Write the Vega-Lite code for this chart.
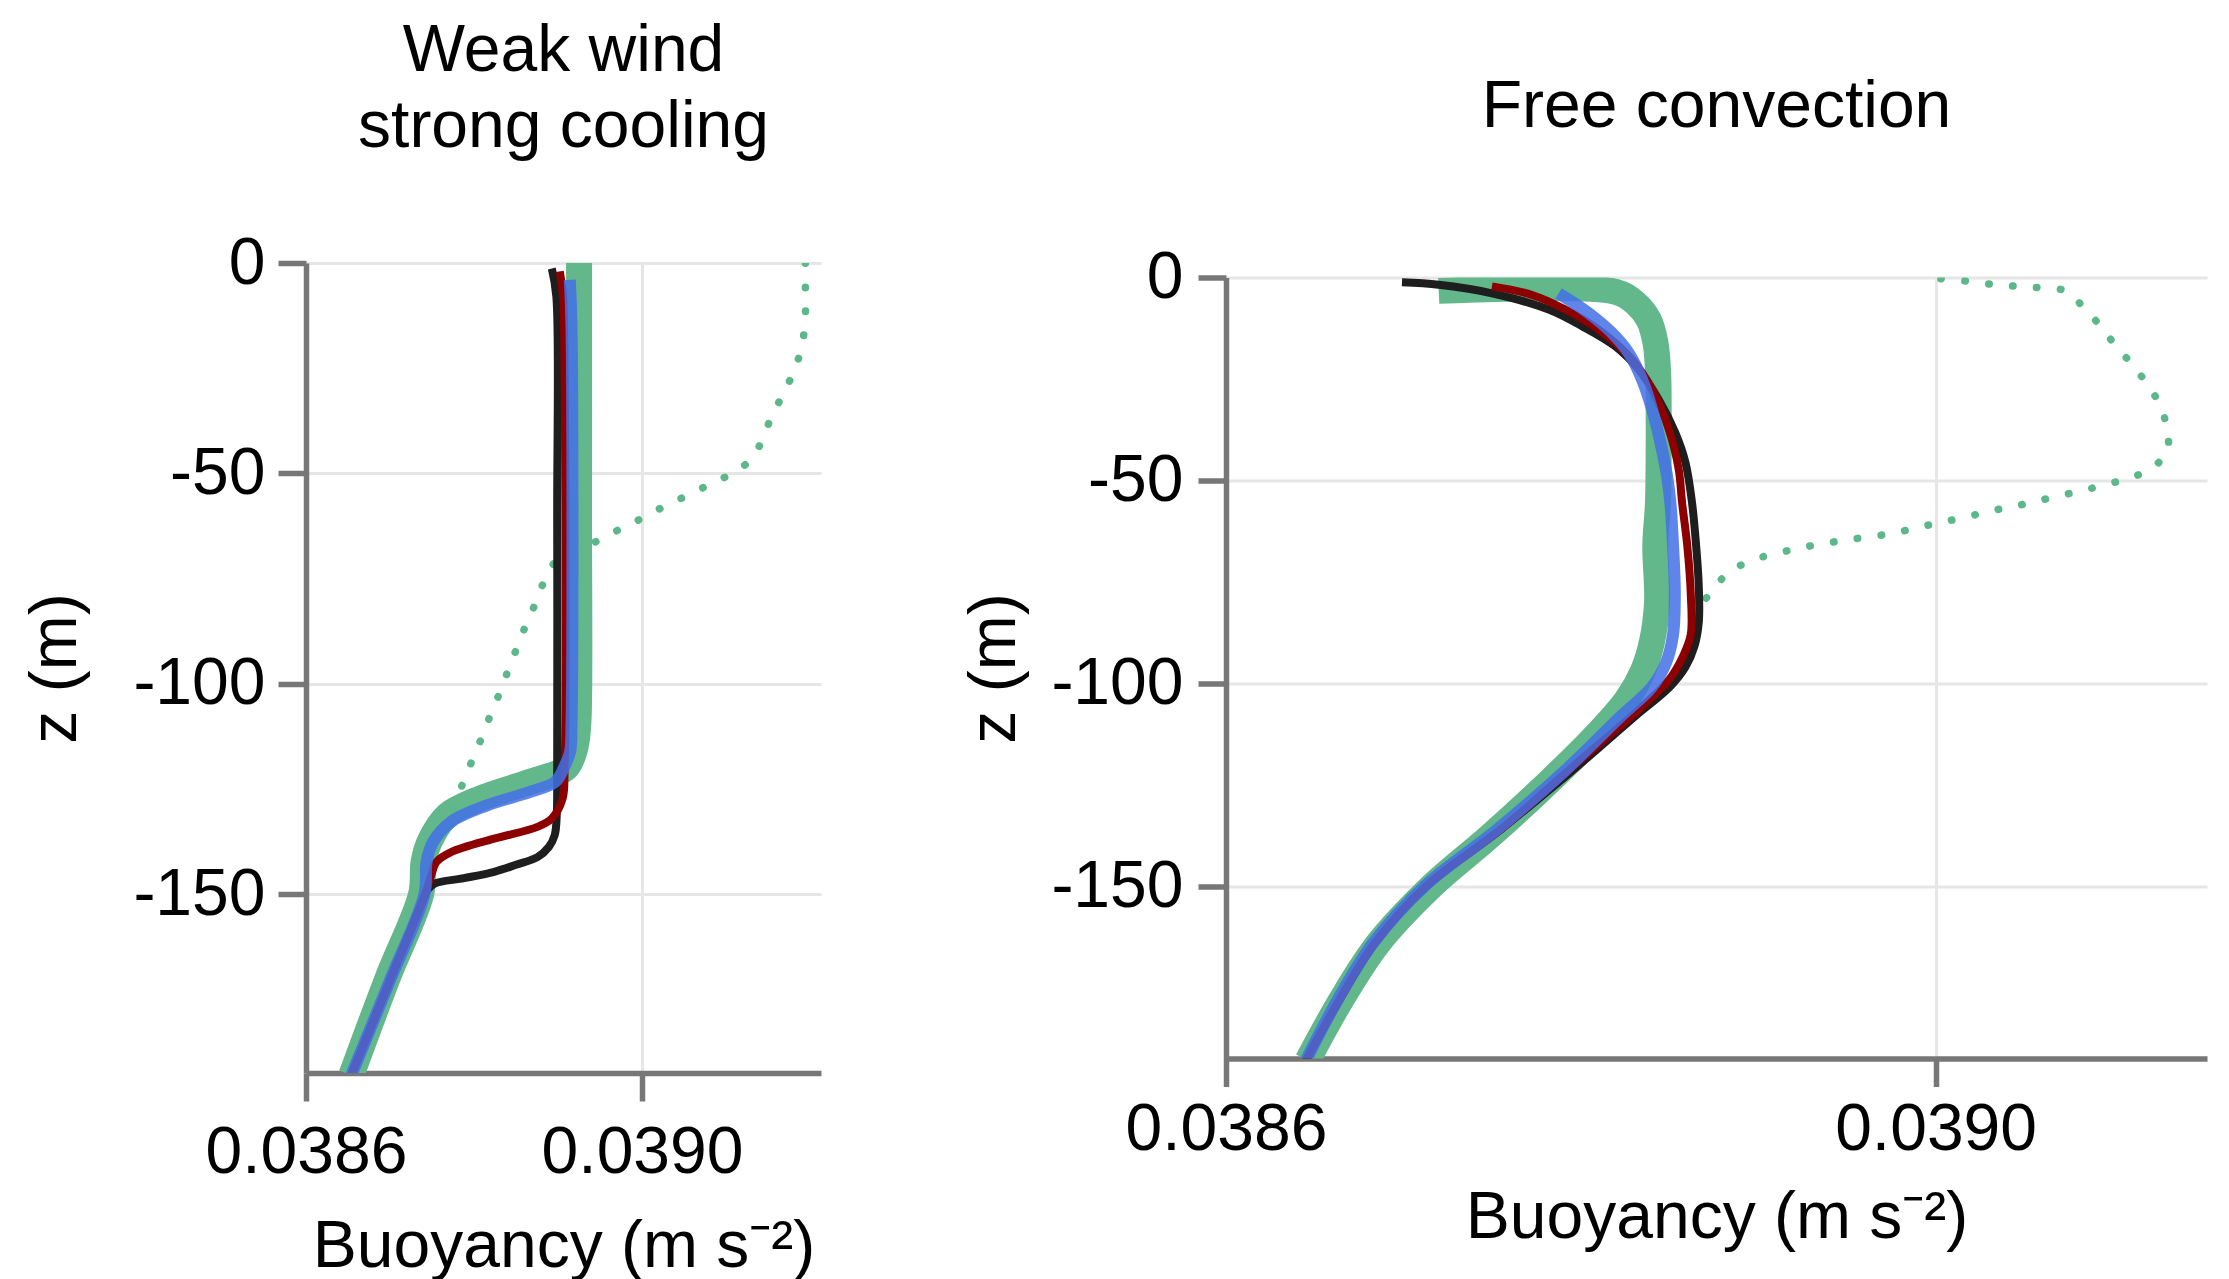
{
  "$schema": "https://vega.github.io/schema/vega-lite/v6.json",
  "background": "white",
  "padding": {"left": 22, "top": 18, "right": 5, "bottom": 0},
  "spacing": 405,
  "bounds": "flush",
  "center": true,
  "config": {
    "font": "Liberation Sans",
    "view": {"stroke": null},
    "axis": {
      "domainColor": "#777777", "domainWidth": 5.5,
      "tickColor": "#777777", "tickWidth": 5.5, "tickSize": 28,
      "grid": true, "gridColor": "#e6e6e6", "gridWidth": 3,
      "labelFont": "Liberation Sans", "labelFontSize": 66, "labelColor": "#000", "labelPadding": 19, "labelFlush": false, "labelLimit": 1000, "labelOverlap": false,
      "titleFont": "Liberation Sans", "titleFontSize": 66, "titleFontWeight": "normal", "titleColor": "#000", "titlePadding": 22, "titleLimit": 2000
    },
    "title": {"font": "Liberation Sans", "fontSize": 66, "fontWeight": "normal", "color": "#000", "anchor": "middle", "limit": 2000}
  },
  "datasets": {
    "rows": [
      {"p":"L","s":"g","z":0,"b":0.038925},
      {"p":"L","s":"g","z":-60,"b":0.038925},
      {"p":"L","s":"g","z":-108,"b":0.0389245},
      {"p":"L","s":"g","z":-113.8,"b":0.038922},
      {"p":"L","s":"g","z":-117.5,"b":0.038917},
      {"p":"L","s":"g","z":-120.2,"b":0.0389087},
      {"p":"L","s":"g","z":-123.3,"b":0.0388668},
      {"p":"L","s":"g","z":-127.3,"b":0.0388069},
      {"p":"L","s":"g","z":-131.3,"b":0.038768},
      {"p":"L","s":"g","z":-137.6,"b":0.0387469},
      {"p":"L","s":"g","z":-142.3,"b":0.03874},
      {"p":"L","s":"g","z":-150,"b":0.038737},
      {"p":"L","s":"g","z":-170,"b":0.038697},
      {"p":"L","s":"g","z":-193,"b":0.038654},

      {"p":"L","s":"d","z":0,"b":0.0391944},
      {"p":"L","s":"d","z":-6.5,"b":0.0391944},
      {"p":"L","s":"d","z":-12.4,"b":0.0391944},
      {"p":"L","s":"d","z":-18.4,"b":0.0391914},
      {"p":"L","s":"d","z":-24.2,"b":0.0391837},
      {"p":"L","s":"d","z":-29.7,"b":0.0391716},
      {"p":"L","s":"d","z":-35,"b":0.039158},
      {"p":"L","s":"d","z":-40.6,"b":0.0391452},
      {"p":"L","s":"d","z":-45.9,"b":0.0391332},
      {"p":"L","s":"d","z":-49.7,"b":0.0391101},
      {"p":"L","s":"d","z":-52.2,"b":0.0390843},
      {"p":"L","s":"d","z":-55,"b":0.0390566},
      {"p":"L","s":"d","z":-57.6,"b":0.0390287},
      {"p":"L","s":"d","z":-60.4,"b":0.0390026},
      {"p":"L","s":"d","z":-63,"b":0.038976},
      {"p":"L","s":"d","z":-65.9,"b":0.0389482},
      {"p":"L","s":"d","z":-68.6,"b":0.038921},
      {"p":"L","s":"d","z":-71.5,"b":0.0388947},
      {"p":"L","s":"d","z":-76.4,"b":0.0388818},
      {"p":"L","s":"d","z":-82.2,"b":0.0388703},
      {"p":"L","s":"d","z":-87.7,"b":0.0388583},
      {"p":"L","s":"d","z":-93.2,"b":0.0388476},
      {"p":"L","s":"d","z":-98.8,"b":0.0388368},
      {"p":"L","s":"d","z":-104.3,"b":0.0388262},
      {"p":"L","s":"d","z":-109.8,"b":0.0388147},
      {"p":"L","s":"d","z":-115.4,"b":0.0388039},
      {"p":"L","s":"d","z":-121,"b":0.0387919},
      {"p":"L","s":"d","z":-126.5,"b":0.0387812},
      {"p":"L","s":"d","z":-132.1,"b":0.0387705},

      {"p":"L","s":"k","z":-1.3,"b":0.0388926},
      {"p":"L","s":"k","z":-8,"b":0.038898},
      {"p":"L","s":"k","z":-60,"b":0.038899},
      {"p":"L","s":"k","z":-120,"b":0.038899},
      {"p":"L","s":"k","z":-131,"b":0.0388985},
      {"p":"L","s":"k","z":-136,"b":0.038896},
      {"p":"L","s":"k","z":-138.8,"b":0.038889},
      {"p":"L","s":"k","z":-141.2,"b":0.0388755},
      {"p":"L","s":"k","z":-143,"b":0.03885},
      {"p":"L","s":"k","z":-144.7,"b":0.038824},
      {"p":"L","s":"k","z":-146.2,"b":0.038788},
      {"p":"L","s":"k","z":-147.5,"b":0.038753},
      {"p":"L","s":"k","z":-149,"b":0.0387445},
      {"p":"L","s":"k","z":-152,"b":0.038738},
      {"p":"L","s":"k","z":-170,"b":0.038701},
      {"p":"L","s":"k","z":-193,"b":0.038654},

      {"p":"L","s":"r","z":-2,"b":0.0389021},
      {"p":"L","s":"r","z":-8,"b":0.038906},
      {"p":"L","s":"r","z":-20,"b":0.0389075},
      {"p":"L","s":"r","z":-120,"b":0.0389078},
      {"p":"L","s":"r","z":-127.3,"b":0.0389054},
      {"p":"L","s":"r","z":-132,"b":0.0388926},
      {"p":"L","s":"r","z":-134,"b":0.0388754},
      {"p":"L","s":"r","z":-136.8,"b":0.038824},
      {"p":"L","s":"r","z":-140,"b":0.0387727},
      {"p":"L","s":"r","z":-142.3,"b":0.0387555},
      {"p":"L","s":"r","z":-145.5,"b":0.0387491},
      {"p":"L","s":"r","z":-150,"b":0.038742},
      {"p":"L","s":"r","z":-170,"b":0.038701},
      {"p":"L","s":"r","z":-193,"b":0.038654},

      {"p":"L","s":"u","z":-4,"b":0.038914},
      {"p":"L","s":"u","z":-15,"b":0.038916},
      {"p":"L","s":"u","z":-110,"b":0.038916},
      {"p":"L","s":"u","z":-116,"b":0.0389145},
      {"p":"L","s":"u","z":-119.3,"b":0.0389085},
      {"p":"L","s":"u","z":-123.3,"b":0.0388968},
      {"p":"L","s":"u","z":-125.7,"b":0.0388668},
      {"p":"L","s":"u","z":-128.9,"b":0.0388155},
      {"p":"L","s":"u","z":-132.8,"b":0.0387727},
      {"p":"L","s":"u","z":-137.6,"b":0.0387512},
      {"p":"L","s":"u","z":-142.3,"b":0.0387435},
      {"p":"L","s":"u","z":-150,"b":0.038741},
      {"p":"L","s":"u","z":-170,"b":0.038701},
      {"p":"L","s":"u","z":-193,"b":0.038654},

      {"p":"R","s":"g","z":-3.3,"b":0.0387199},
      {"p":"R","s":"g","z":-3.5,"b":0.0388195},
      {"p":"R","s":"g","z":-6.3,"b":0.0388308},
      {"p":"R","s":"g","z":-10.4,"b":0.0388383},
      {"p":"R","s":"g","z":-16.1,"b":0.0388421},
      {"p":"R","s":"g","z":-23.5,"b":0.0388436},
      {"p":"R","s":"g","z":-35.8,"b":0.0388439},
      {"p":"R","s":"g","z":-55.5,"b":0.0388435},
      {"p":"R","s":"g","z":-66,"b":0.038842},
      {"p":"R","s":"g","z":-80,"b":0.038843},
      {"p":"R","s":"g","z":-90,"b":0.03884},
      {"p":"R","s":"g","z":-97,"b":0.038835},
      {"p":"R","s":"g","z":-104,"b":0.038826},
      {"p":"R","s":"g","z":-114,"b":0.038806},
      {"p":"R","s":"g","z":-126,"b":0.038778},
      {"p":"R","s":"g","z":-138,"b":0.038748},
      {"p":"R","s":"g","z":-150,"b":0.038716},
      {"p":"R","s":"g","z":-164,"b":0.038686},
      {"p":"R","s":"g","z":-178,"b":0.038665},
      {"p":"R","s":"g","z":-193,"b":0.038646},

      {"p":"R","s":"d","z":-0.3,"b":0.039003},
      {"p":"R","s":"d","z":-0.98,"b":0.0390197},
      {"p":"R","s":"d","z":-1.8,"b":0.0390338},
      {"p":"R","s":"d","z":-2.2,"b":0.039047},
      {"p":"R","s":"d","z":-2.6,"b":0.0390601},
      {"p":"R","s":"d","z":-3.4,"b":0.039074},
      {"p":"R","s":"d","z":-7.5,"b":0.0390836},
      {"p":"R","s":"d","z":-12,"b":0.039093},
      {"p":"R","s":"d","z":-16.8,"b":0.0391015},
      {"p":"R","s":"d","z":-21.5,"b":0.0391109},
      {"p":"R","s":"d","z":-26,"b":0.0391188},
      {"p":"R","s":"d","z":-31,"b":0.0391259},
      {"p":"R","s":"d","z":-36.9,"b":0.0391303},
      {"p":"R","s":"d","z":-42.8,"b":0.0391306},
      {"p":"R","s":"d","z":-46.9,"b":0.0391221},
      {"p":"R","s":"d","z":-49.5,"b":0.039109},
      {"p":"R","s":"d","z":-51,"b":0.0390959},
      {"p":"R","s":"d","z":-52.6,"b":0.0390823},
      {"p":"R","s":"d","z":-53.8,"b":0.0390695},
      {"p":"R","s":"d","z":-55.3,"b":0.0390554},
      {"p":"R","s":"d","z":-56.5,"b":0.0390429},
      {"p":"R","s":"d","z":-57.7,"b":0.0390291},
      {"p":"R","s":"d","z":-59.2,"b":0.039016},
      {"p":"R","s":"d","z":-60.4,"b":0.0390018},
      {"p":"R","s":"d","z":-61.8,"b":0.0389887},
      {"p":"R","s":"d","z":-63.3,"b":0.038972},
      {"p":"R","s":"d","z":-65,"b":0.038945},
      {"p":"R","s":"d","z":-67.3,"b":0.038917},
      {"p":"R","s":"d","z":-70.5,"b":0.038892},
      {"p":"R","s":"d","z":-74.5,"b":0.038879},
      {"p":"R","s":"d","z":-79.5,"b":0.03887},

      {"p":"R","s":"k","z":-1.2,"b":0.0386992},
      {"p":"R","s":"k","z":-1.8,"b":0.0387199},
      {"p":"R","s":"k","z":-3.9,"b":0.0387499},
      {"p":"R","s":"k","z":-7.9,"b":0.0387819},
      {"p":"R","s":"k","z":-12,"b":0.0388007},
      {"p":"R","s":"k","z":-17,"b":0.0388195},
      {"p":"R","s":"k","z":-22.7,"b":0.0388327},
      {"p":"R","s":"k","z":-30.1,"b":0.0388439},
      {"p":"R","s":"k","z":-38.3,"b":0.0388533},
      {"p":"R","s":"k","z":-45.6,"b":0.038859},
      {"p":"R","s":"k","z":-55.5,"b":0.0388627},
      {"p":"R","s":"k","z":-66,"b":0.038865},
      {"p":"R","s":"k","z":-76,"b":0.0388665},
      {"p":"R","s":"k","z":-85,"b":0.0388665},
      {"p":"R","s":"k","z":-91,"b":0.038864},
      {"p":"R","s":"k","z":-96,"b":0.038859},
      {"p":"R","s":"k","z":-101,"b":0.03885},
      {"p":"R","s":"k","z":-108,"b":0.038831},
      {"p":"R","s":"k","z":-122,"b":0.038794},
      {"p":"R","s":"k","z":-136,"b":0.038755},
      {"p":"R","s":"k","z":-150,"b":0.038713},
      {"p":"R","s":"k","z":-164,"b":0.038684},
      {"p":"R","s":"k","z":-178,"b":0.038664},
      {"p":"R","s":"k","z":-193,"b":0.038645},

      {"p":"R","s":"r","z":-2.2,"b":0.0387499},
      {"p":"R","s":"r","z":-4.3,"b":0.0387725},
      {"p":"R","s":"r","z":-7.9,"b":0.0387913},
      {"p":"R","s":"r","z":-12.9,"b":0.0388101},
      {"p":"R","s":"r","z":-20.2,"b":0.0388289},
      {"p":"R","s":"r","z":-27.6,"b":0.0388402},
      {"p":"R","s":"r","z":-37.4,"b":0.0388496},
      {"p":"R","s":"r","z":-47.3,"b":0.0388552},
      {"p":"R","s":"r","z":-55.5,"b":0.0388571},
      {"p":"R","s":"r","z":-66,"b":0.03886},
      {"p":"R","s":"r","z":-78,"b":0.038862},
      {"p":"R","s":"r","z":-88,"b":0.038862},
      {"p":"R","s":"r","z":-93,"b":0.038858},
      {"p":"R","s":"r","z":-99,"b":0.03885},
      {"p":"R","s":"r","z":-106,"b":0.038834},
      {"p":"R","s":"r","z":-120,"b":0.038797},
      {"p":"R","s":"r","z":-136,"b":0.038755},
      {"p":"R","s":"r","z":-150,"b":0.038713},
      {"p":"R","s":"r","z":-164,"b":0.038684},
      {"p":"R","s":"r","z":-178,"b":0.038664},
      {"p":"R","s":"r","z":-193,"b":0.038645},

      {"p":"R","s":"u","z":-3.9,"b":0.0387875},
      {"p":"R","s":"u","z":-8.8,"b":0.0388045},
      {"p":"R","s":"u","z":-13.7,"b":0.0388176},
      {"p":"R","s":"u","z":-18.6,"b":0.038827},
      {"p":"R","s":"u","z":-25.1,"b":0.0388345},
      {"p":"R","s":"u","z":-32.5,"b":0.0388402},
      {"p":"R","s":"u","z":-40.7,"b":0.0388449},
      {"p":"R","s":"u","z":-48.9,"b":0.0388486},
      {"p":"R","s":"u","z":-55.5,"b":0.0388505},
      {"p":"R","s":"u","z":-66,"b":0.038852},
      {"p":"R","s":"u","z":-78,"b":0.038853},
      {"p":"R","s":"u","z":-88,"b":0.038852},
      {"p":"R","s":"u","z":-95,"b":0.038848},
      {"p":"R","s":"u","z":-101,"b":0.03884},
      {"p":"R","s":"u","z":-108,"b":0.038823},
      {"p":"R","s":"u","z":-122,"b":0.03879},
      {"p":"R","s":"u","z":-136,"b":0.038753},
      {"p":"R","s":"u","z":-150,"b":0.038712},
      {"p":"R","s":"u","z":-164,"b":0.038683},
      {"p":"R","s":"u","z":-178,"b":0.038663},
      {"p":"R","s":"u","z":-193,"b":0.038645}
    ]
  },
  "hconcat": [
    {
      "width": 515,
      "height": 810,
      "title": {"text": ["Weak wind", "strong cooling"], "lineHeight": 76, "offset": 69},
      "data": {"name": "rows"},
      "transform": [{"filter": "datum.p == 'L'"}],
      "encoding": {
        "x": {"field": "b", "type": "quantitative", "scale": {"domain": [0.0386, 0.039213], "nice": false, "zero": false},
              "axis": {"values": [0.0386, 0.039], "format": ".4f", "title": "Buoyancy (m s\u207b\u00b2)", "labelPadding": 19, "titlePadding": 29}},
        "y": {"field": "z", "type": "quantitative", "scale": {"domain": [-192.5, 0], "nice": false, "zero": false},
              "axis": {"values": [0, -50, -100, -150], "labelExpr": "'' + datum.value", "title": "z (m)", "labelPadding": 13, "titlePadding": 43}},
        "order": {"field": "z", "sort": "descending"}
      },
      "layer": [
        {"transform": [{"filter": "datum.s == 'g'"}], "mark": {"type": "line", "clip": true, "stroke": "#62b88b", "strokeWidth": 26, "strokeJoin": "round", "interpolate": "catmull-rom"}},
        {"transform": [{"filter": "datum.s == 'd'"}], "mark": {"type": "line", "clip": true, "stroke": "#5cb88a", "strokeWidth": 7.5, "strokeCap": "round", "strokeDash": [0.5, 23.5], "interpolate": "catmull-rom"}},
        {"transform": [{"filter": "datum.s == 'k'"}], "mark": {"type": "line", "clip": true, "stroke": "#1e1e1e", "strokeWidth": 8, "strokeJoin": "round", "interpolate": "catmull-rom"}},
        {"transform": [{"filter": "datum.s == 'r'"}], "mark": {"type": "line", "clip": true, "stroke": "#8c0000", "strokeWidth": 8, "strokeJoin": "round", "interpolate": "catmull-rom"}},
        {"transform": [{"filter": "datum.s == 'u'"}], "mark": {"type": "line", "clip": true, "stroke": "#4470e6", "strokeWidth": 12, "opacity": 0.85, "strokeJoin": "round", "interpolate": "catmull-rom"}}
      ]
    },
    {
      "width": 981,
      "height": 781,
      "title": {"text": "Free convection", "offset": 104},
      "data": {"name": "rows"},
      "transform": [{"filter": "datum.p == 'R'"}],
      "encoding": {
        "x": {"field": "b", "type": "quantitative", "scale": {"domain": [0.0386, 0.039153], "nice": false, "zero": false},
              "axis": {"values": [0.0386, 0.039], "format": ".4f", "title": "Buoyancy (m s\u207b\u00b2)", "labelPadding": 11, "titlePadding": 23}},
        "y": {"field": "z", "type": "quantitative", "scale": {"domain": [-192.5, 0], "nice": false, "zero": false},
              "axis": {"values": [0, -50, -100, -150], "labelExpr": "'' + datum.value", "title": "z (m)", "labelPadding": 15, "titlePadding": 22}},
        "order": {"field": "z", "sort": "descending"}
      },
      "layer": [
        {"transform": [{"filter": "datum.s == 'g'"}], "mark": {"type": "line", "clip": true, "stroke": "#62b88b", "strokeWidth": 26, "strokeJoin": "round", "interpolate": "catmull-rom"}},
        {"transform": [{"filter": "datum.s == 'd'"}], "mark": {"type": "line", "clip": true, "stroke": "#5cb88a", "strokeWidth": 7.5, "strokeCap": "round", "strokeDash": [0.5, 23.5], "interpolate": "catmull-rom"}},
        {"transform": [{"filter": "datum.s == 'k'"}], "mark": {"type": "line", "clip": true, "stroke": "#1e1e1e", "strokeWidth": 8, "strokeJoin": "round", "interpolate": "catmull-rom"}},
        {"transform": [{"filter": "datum.s == 'r'"}], "mark": {"type": "line", "clip": true, "stroke": "#8c0000", "strokeWidth": 8, "strokeJoin": "round", "interpolate": "catmull-rom"}},
        {"transform": [{"filter": "datum.s == 'u'"}], "mark": {"type": "line", "clip": true, "stroke": "#4470e6", "strokeWidth": 12, "opacity": 0.85, "strokeJoin": "round", "interpolate": "catmull-rom"}}
      ]
    }
  ]
}
